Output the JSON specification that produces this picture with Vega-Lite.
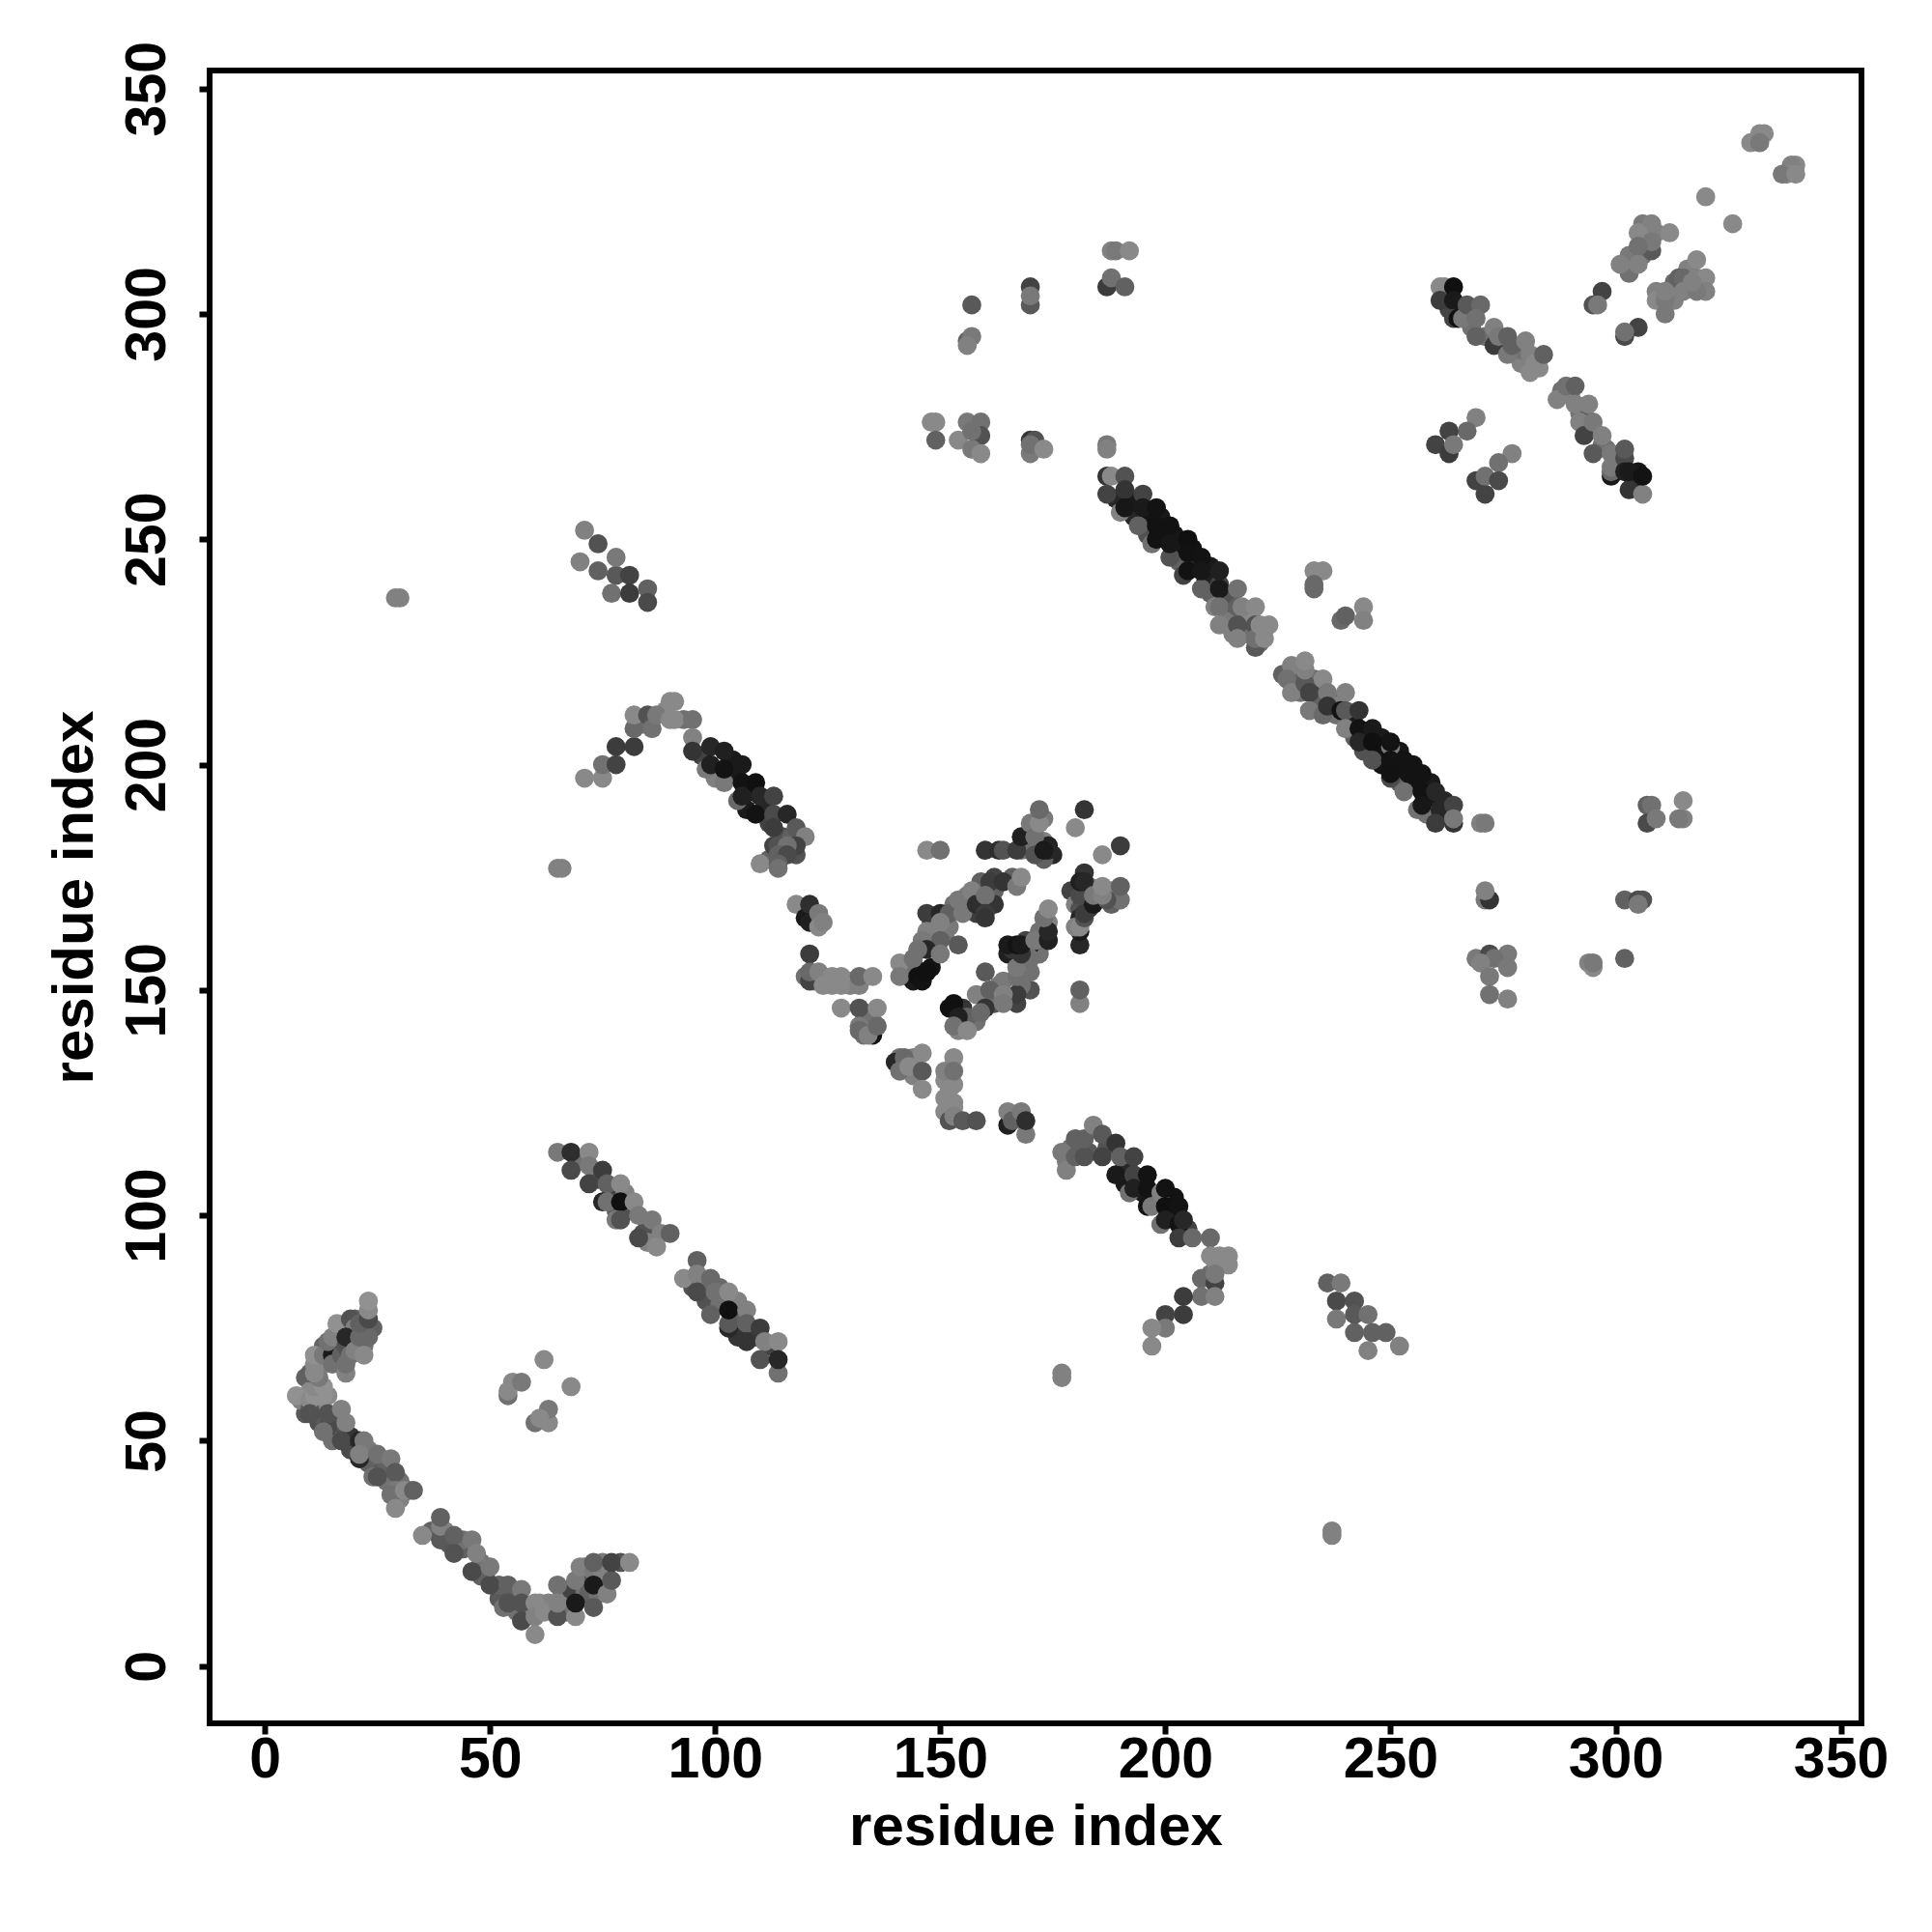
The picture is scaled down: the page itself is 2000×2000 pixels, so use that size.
{"$schema":"https://vega.github.io/schema/vega-lite/v6.json","autosize":"none","width":1710,"height":1711,"padding":{"left":217,"top":73,"right":73,"bottom":216},"background":"white","view":{"stroke":"black","strokeWidth":6,"fill":"white"},"config":{"axis":{"grid":false,"domain":false,"tickColor":"black","tickWidth":6,"tickSize":11,"labelFont":"Liberation Sans","labelFontWeight":"bold","labelFontSize":59,"labelColor":"black","titleFont":"Liberation Sans","titleFontWeight":"bold","titleFontSize":60,"titleColor":"black","labelOverlap":false,"labelFlush":false}},"data":{"values":[
{"x":189,"y":259,"v":0.2},{"x":192,"y":259,"v":0.1},{"x":193,"y":255,"v":0.2},{"x":196,"y":254,"v":0.05},{"x":196,"y":251,"v":0.5},{"x":199,"y":255,"v":0.1},{"x":199,"y":251,"v":0.05},{"x":202,"y":251,"v":0.08},{"x":203,"y":248,"v":0.1},{"x":203,"y":245,"v":0.6},{"x":206,"y":248,"v":0.05},{"x":206,"y":244,"v":0.3},{"x":209,"y":241,"v":0.15},{"x":210,"y":244,"v":0.1},{"x":210,"y":238,"v":0.6},{"x":213,"y":237,"v":0.7},{"x":214,"y":233,"v":0.75},{"x":214,"y":236,"v":0.5},{"x":217,"y":233,"v":0.75},{"x":218,"y":229,"v":0.7},{"x":218,"y":232,"v":0.5},{"x":215,"y":229,"v":0.8},{"x":222,"y":230,"v":0.8},{"x":219,"y":233,"v":0.85},{"x":221,"y":227,"v":0.7},
{"x":229,"y":219,"v":0.6},{"x":230,"y":216,"v":0.7},{"x":233,"y":219,"v":0.7},{"x":234,"y":217,"v":0.4},{"x":234,"y":214,"v":0.6},{"x":237,"y":214,"v":0.4},{"x":238,"y":211,"v":0.7},{"x":238,"y":213,"v":0.8},{"x":241,"y":211,"v":0.1},{"x":241,"y":208,"v":0.15},{"x":242,"y":206,"v":0.6},{"x":245,"y":206,"v":0.05},{"x":244,"y":203,"v":0.5},{"x":248,"y":203,"v":0.05},{"x":248,"y":206,"v":0.1},{"x":248,"y":200,"v":0.05},{"x":252,"y":203,"v":0.08},{"x":252,"y":199,"v":0.05},{"x":252,"y":196,"v":0.6},{"x":255,"y":196,"v":0.05},{"x":255,"y":200,"v":0.05},{"x":259,"y":192,"v":0.1},{"x":259,"y":196,"v":0.1},{"x":262,"y":189,"v":0.3},{"x":262,"y":192,"v":0.2},{"x":258,"y":189,"v":0.7},
{"x":148,"y":165,"v":0.6},{"x":148,"y":161,"v":0.7},{"x":151,"y":162,"v":0.7},{"x":152,"y":164,"v":0.75},{"x":153,"y":169,"v":0.7},{"x":156,"y":169,"v":0.7},{"x":156,"y":171,"v":0.75},{"x":159,"y":172,"v":0.7},{"x":159,"y":174,"v":0.6},{"x":162,"y":172,"v":0.6},{"x":162,"y":169,"v":0.3},{"x":162,"y":175,"v":0.4},{"x":158,"y":167,"v":0.35},{"x":166,"y":175,"v":0.6},{"x":169,"y":184,"v":0.7},{"x":170,"y":182,"v":0.6},{"x":171,"y":182,"v":0.5},{"x":173,"y":183,"v":0.8},{"x":173,"y":188,"v":0.75},{"x":170,"y":185,"v":0.2},{"x":168,"y":181,"v":0.7},{"x":172,"y":182,"v":0.8},{"x":174,"y":182,"v":0.15},{"x":175,"y":180,"v":0.2},{"x":173,"y":179,"v":0.6},
{"x":183,"y":173,"v":0.7},{"x":182,"y":176,"v":0.3},{"x":179,"y":172,"v":0.4},{"x":183,"y":168,"v":0.35},{"x":180,"y":169,"v":0.8},{"x":182,"y":170,"v":0.55},{"x":185,"y":172,"v":0.7},{"x":188,"y":172,"v":0.8},{"x":188,"y":169,"v":0.6},{"x":190,"y":170,"v":0.7},{"x":181,"y":168,"v":0.5},{"x":181,"y":166,"v":0.2},{"x":170,"y":150,"v":0.5},{"x":168,"y":151,"v":0.7},{"x":170,"y":154,"v":0.7},{"x":172,"y":158,"v":0.7},{"x":170,"y":160,"v":0.1},{"x":165,"y":158,"v":0.15},{"x":166,"y":159,"v":0.3},{"x":165,"y":160,"v":0.1},{"x":169,"y":161,"v":0.4},{"x":172,"y":163,"v":0.7},{"x":174,"y":165,"v":0.8},{"x":164,"y":152,"v":0.75},{"x":162,"y":147,"v":0.5},{"x":161,"y":148,"v":0.7},{"x":155,"y":146,"v":0.3},{"x":154,"y":141,"v":0.8},{"x":158,"y":143,"v":0.7},{"x":163,"y":151,"v":0.75},
{"x":9,"y":56,"v":0.55},{"x":12,"y":57,"v":0.6},{"x":12,"y":54,"v":0.5},{"x":15,"y":55,"v":0.5},{"x":16,"y":52,"v":0.5},{"x":15,"y":50,"v":0.7},{"x":19,"y":48,"v":0.45},{"x":19,"y":51,"v":0.3},{"x":23,"y":45,"v":0.6},{"x":23,"y":48,"v":0.75},{"x":26,"y":43,"v":0.55},{"x":27,"y":45,"v":0.6},{"x":27,"y":41,"v":0.7},{"x":30,"y":41,"v":0.7},{"x":30,"y":37,"v":0.8},{"x":32,"y":39,"v":0.7},{"x":40,"y":30,"v":0.8},{"x":41,"y":27,"v":0.55},{"x":37,"y":30,"v":0.6},{"x":44,"y":26,"v":0.6},{"x":44,"y":28,"v":0.7},{"x":48,"y":23,"v":0.7},{"x":49,"y":20,"v":0.5},{"x":48,"y":20,"v":0.6},{"x":52,"y":15,"v":0.55},{"x":52,"y":18,"v":0.6},{"x":56,"y":12,"v":0.7},{"x":55,"y":15,"v":0.6},{"x":59,"y":13,"v":0.8},{"x":58,"y":11,"v":0.85},{"x":61,"y":14,"v":0.85},{"x":63,"y":14,"v":0.8},{"x":64,"y":12,"v":0.8},{"x":67,"y":14,"v":0.75},{"x":67,"y":12,"v":0.7},{"x":66,"y":16,"v":0.8},{"x":68,"y":17,"v":0.4},{"x":71,"y":16,"v":0.7},{"x":71,"y":19,"v":0.5},{"x":71,"y":22,"v":0.75},{"x":72,"y":16,"v":0.6},{"x":74,"y":20,"v":0.6},{"x":75,"y":18,"v":0.55},{"x":75,"y":23,"v":0.75},{"x":79,"y":23,"v":0.5},{"x":74,"y":16,"v":0.7},
{"x":12,"y":67,"v":0.8},{"x":13,"y":71,"v":0.6},{"x":13,"y":67,"v":0.85},{"x":9,"y":64,"v":0.6},{"x":8,"y":59,"v":0.8},{"x":16,"y":70,"v":0.8},{"x":17,"y":74,"v":0.7},{"x":20,"y":72,"v":0.7},{"x":22,"y":71,"v":0.7},{"x":24,"y":75,"v":0.6},{"x":20,"y":77,"v":0.6},{"x":12,"y":56,"v":0.55},{"x":14,"y":60,"v":0.85},{"x":10,"y":61,"v":0.85},{"x":12,"y":58,"v":0.85},
{"x":70,"y":112,"v":0.7},{"x":74,"y":108,"v":0.5},{"x":77,"y":105,"v":0.4},{"x":80,"y":105,"v":0.8},{"x":78,"y":101,"v":0.6},{"x":81,"y":101,"v":0.5},{"x":85,"y":98,"v":0.7},{"x":84,"y":96,"v":0.5},{"x":85,"y":94,"v":0.8},{"x":95,"y":84,"v":0.5},{"x":97,"y":85,"v":0.75},{"x":98,"y":81,"v":0.5},{"x":101,"y":80,"v":0.7},{"x":101,"y":84,"v":0.65},{"x":104,"y":78,"v":0.6},{"x":105,"y":81,"v":0.8},{"x":109,"y":73,"v":0.35},{"x":105,"y":73,"v":0.3},{"x":112,"y":71,"v":0.4},
{"x":306,"y":317,"v":0.85},{"x":309,"y":318,"v":0.8},{"x":303,"y":313,"v":0.75},{"x":306,"y":313,"v":0.7},{"x":307,"y":316,"v":0.75},{"x":304,"y":311,"v":0.75},{"x":313,"y":305,"v":0.8},{"x":316,"y":307,"v":0.7},{"x":319,"y":306,"v":0.8},{"x":316,"y":310,"v":0.8},{"x":313,"y":307,"v":0.65},{"x":309,"y":305,"v":0.8},{"x":313,"y":303,"v":0.8},
{"x":263,"y":301,"v":0.4},{"x":266,"y":301,"v":0.6},{"x":268,"y":297,"v":0.7},{"x":271,"y":295,"v":0.7},{"x":275,"y":294,"v":0.6},{"x":278,"y":291,"v":0.8},{"x":279,"y":289,"v":0.8},{"x":283,"y":288,"v":0.85},{"x":279,"y":292,"v":0.7},{"x":288,"y":283,"v":0.7},{"x":290,"y":282,"v":0.8},{"x":292,"y":278,"v":0.7},{"x":293,"y":278,"v":0.6},{"x":297,"y":271,"v":0.7},{"x":294,"y":275,"v":0.75},{"x":298,"y":270,"v":0.7},{"x":300,"y":268,"v":0.7},{"x":301,"y":267,"v":0.5},{"x":304,"y":263,"v":0.2},{"x":305,"y":265,"v":0.08},
{"x":141,"y":135,"v":0.7},{"x":144,"y":135,"v":0.8},{"x":144,"y":131,"v":0.8},{"x":151,"y":130,"v":0.85},{"x":153,"y":129,"v":0.85},{"x":151,"y":126,"v":0.85},{"x":153,"y":125,"v":0.85},{"x":151,"y":123,"v":0.85},{"x":153,"y":124,"v":0.85},{"x":120,"y":153,"v":0.7},{"x":122,"y":152,"v":0.75},{"x":124,"y":153,"v":0.85},{"x":126,"y":151,"v":0.85},{"x":130,"y":152,"v":0.85},{"x":130,"y":151,"v":0.8},{"x":133,"y":145,"v":0.75},{"x":133,"y":143,"v":0.75},{"x":135,"y":143,"v":0.7},{"x":133,"y":140,"v":0.7},{"x":142,"y":155,"v":0.8},{"x":143,"y":153,"v":0.75},{"x":144,"y":156,"v":0.7},{"x":144,"y":152,"v":0.1},{"x":148,"y":155,"v":0.05},
{"x":100,"y":197,"v":0.8},{"x":107,"y":190,"v":0.1},{"x":111,"y":190,"v":0.2},{"x":112,"y":187,"v":0.4},{"x":115,"y":184,"v":0.5},{"x":117,"y":184,"v":0.6},{"x":112,"y":179,"v":0.6},{"x":118,"y":180,"v":0.5},{"x":104,"y":198,"v":0.1},{"x":104,"y":201,"v":0.1},{"x":108,"y":194,"v":0.05},{"x":93,"y":210,"v":0.7},{"x":89,"y":212,"v":0.85},{"x":84,"y":209,"v":0.7},{"x":97,"y":202,"v":0.4},
{"x":179,"y":115,"v":0.7},{"x":181,"y":114,"v":0.65},{"x":183,"y":114,"v":0.55},{"x":187,"y":115,"v":0.5},{"x":191,"y":111,"v":0.2},{"x":191,"y":107,"v":0.1},{"x":194,"y":108,"v":0.1},{"x":195,"y":105,"v":0.1},{"x":198,"y":104,"v":0.05},{"x":201,"y":100,"v":0.1},{"x":202,"y":104,"v":0.05},{"x":205,"y":97,"v":0.4},{"x":212,"y":91,"v":0.85},{"x":212,"y":89,"v":0.8},{"x":210,"y":87,"v":0.7},{"x":178,"y":112,"v":0.75},
{"x":7,"y":60,"v":0.9},{"x":10,"y":57,"v":0.55},{"x":10,"y":59,"v":0.85},{"x":11,"y":60,"v":0.9},{"x":12,"y":60,"v":0.9},{"x":13,"y":60,"v":0.9},{"x":11,"y":62,"v":0.85},{"x":13,"y":62,"v":0.9},{"x":12,"y":64,"v":0.75},{"x":10,"y":65,"v":0.6},{"x":11,"y":65,"v":0.85},{"x":11,"y":67,"v":0.85},{"x":11,"y":69,"v":0.9},{"x":13,"y":69,"v":0.75},{"x":15,"y":69,"v":0.1},{"x":15,"y":67,"v":0.7},{"x":18,"y":65,"v":0.8},{"x":17,"y":69,"v":0.6},{"x":14,"y":72,"v":0.7},{"x":15,"y":73,"v":0.8},{"x":16,"y":76,"v":0.9},{"x":19,"y":77,"v":0.5},{"x":20,"y":75,"v":0.8},{"x":18,"y":71,"v":0.5},{"x":18,"y":67,"v":0.7},{"x":18,"y":73,"v":0.2},{"x":19,"y":69,"v":0.7},{"x":20,"y":70,"v":0.8},{"x":22,"y":69,"v":0.85},{"x":21,"y":73,"v":0.65},{"x":23,"y":73,"v":0.65},{"x":21,"y":76,"v":0.6},{"x":23,"y":77,"v":0.45},{"x":23,"y":79,"v":0.85},{"x":23,"y":81,"v":0.9},
{"x":10,"y":56,"v":0.5},{"x":14,"y":53,"v":0.45},{"x":14,"y":56,"v":0.5},{"x":17,"y":57,"v":0.8},{"x":18,"y":54,"v":0.8},{"x":13,"y":52,"v":0.7},{"x":17,"y":50,"v":0.45},{"x":21,"y":50,"v":0.2},{"x":22,"y":50,"v":0.75},{"x":21,"y":46,"v":0.2},{"x":21,"y":47,"v":0.8},{"x":25,"y":47,"v":0.7},{"x":28,"y":46,"v":0.75},{"x":24,"y":42,"v":0.7},{"x":25,"y":42,"v":0.5},{"x":29,"y":43,"v":0.55},{"x":29,"y":39,"v":0.75},{"x":28,"y":38,"v":0.7},{"x":31,"y":39,"v":0.85},{"x":33,"y":39,"v":0.6},{"x":29,"y":35,"v":0.85},
{"x":35,"y":29,"v":0.85},{"x":39,"y":28,"v":0.55},{"x":39,"y":31,"v":0.8},{"x":39,"y":33,"v":0.6},{"x":42,"y":29,"v":0.6},{"x":42,"y":25,"v":0.5},{"x":46,"y":28,"v":0.75},{"x":46,"y":21,"v":0.45},{"x":47,"y":25,"v":0.8},{"x":50,"y":18,"v":0.45},{"x":50,"y":22,"v":0.75},{"x":54,"y":18,"v":0.6},{"x":57,"y":17,"v":0.75},{"x":53,"y":13,"v":0.7},{"x":54,"y":14,"v":0.5},{"x":57,"y":14,"v":0.5},{"x":57,"y":10,"v":0.45},{"x":60,"y":14,"v":0.85},{"x":60,"y":11,"v":0.8},{"x":60,"y":7,"v":0.85},{"x":62,"y":12,"v":0.85},{"x":65,"y":11,"v":0.5},{"x":69,"y":11,"v":0.85},{"x":65,"y":18,"v":0.7},{"x":65,"y":14,"v":0.8},{"x":69,"y":14,"v":0.1},{"x":69,"y":19,"v":0.75},{"x":70,"y":22,"v":0.8},{"x":73,"y":13,"v":0.55},{"x":73,"y":21,"v":0.75},{"x":75,"y":21,"v":0.8},{"x":73,"y":18,"v":0.1},{"x":73,"y":23,"v":0.6},{"x":76,"y":16,"v":0.8},{"x":77,"y":19,"v":0.55},{"x":77,"y":23,"v":0.4},{"x":81,"y":23,"v":0.85},
{"x":62,"y":68,"v":0.85},{"x":68,"y":62,"v":0.85},{"x":54,"y":60,"v":0.7},{"x":55,"y":63,"v":0.85},{"x":54,"y":61,"v":0.85},{"x":57,"y":63,"v":0.75},{"x":60,"y":54,"v":0.7},{"x":63,"y":54,"v":0.85},{"x":63,"y":57,"v":0.75},{"x":61,"y":55,"v":0.85},
{"x":65,"y":114,"v":0.75},{"x":68,"y":114,"v":0.25},{"x":72,"y":114,"v":0.85},{"x":68,"y":110,"v":0.45},{"x":72,"y":111,"v":0.75},{"x":75,"y":110,"v":0.35},{"x":72,"y":107,"v":0.4},{"x":76,"y":107,"v":0.6},{"x":79,"y":107,"v":0.85},{"x":75,"y":103,"v":0.2},{"x":76,"y":103,"v":0.7},{"x":79,"y":103,"v":0.03},{"x":82,"y":103,"v":0.85},{"x":78,"y":99,"v":0.75},{"x":79,"y":99,"v":0.5},{"x":83,"y":100,"v":0.75},{"x":86,"y":99,"v":0.75},{"x":83,"y":95,"v":0.45},{"x":88,"y":96,"v":0.8},{"x":90,"y":96,"v":0.6},{"x":87,"y":93,"v":0.85},
{"x":96,"y":90,"v":0.6},{"x":93,"y":86,"v":0.85},{"x":96,"y":87,"v":0.8},{"x":96,"y":83,"v":0.45},{"x":99,"y":86,"v":0.65},{"x":99,"y":78,"v":0.6},{"x":100,"y":83,"v":0.7},{"x":103,"y":75,"v":0.2},{"x":103,"y":83,"v":0.85},{"x":103,"y":76,"v":0.55},{"x":103,"y":79,"v":0.03},{"x":107,"y":79,"v":0.8},{"x":107,"y":76,"v":0.6},{"x":110,"y":75,"v":0.35},{"x":107,"y":72,"v":0.3},{"x":111,"y":72,"v":0.8},{"x":110,"y":68,"v":0.5},{"x":114,"y":72,"v":0.85},{"x":114,"y":65,"v":0.7},{"x":114,"y":68,"v":0.2},
{"x":71,"y":252,"v":0.8},{"x":70,"y":245,"v":0.8},{"x":74,"y":249,"v":0.5},{"x":74,"y":243,"v":0.6},{"x":78,"y":242,"v":0.55},{"x":78,"y":246,"v":0.75},{"x":77,"y":238,"v":0.7},{"x":81,"y":242,"v":0.4},{"x":81,"y":238,"v":0.35},{"x":85,"y":239,"v":0.6},{"x":85,"y":236,"v":0.45},{"x":29,"y":237,"v":0.8},{"x":30,"y":237,"v":0.8},
{"x":71,"y":197,"v":0.85},{"x":75,"y":197,"v":0.85},{"x":75,"y":200,"v":0.7},{"x":78,"y":200,"v":0.4},{"x":78,"y":204,"v":0.35},{"x":82,"y":204,"v":0.35},{"x":82,"y":208,"v":0.65},{"x":82,"y":211,"v":0.85},{"x":85,"y":211,"v":0.5},{"x":86,"y":208,"v":0.7},{"x":87,"y":211,"v":0.75},{"x":90,"y":214,"v":0.85},{"x":91,"y":214,"v":0.85},{"x":90,"y":210,"v":0.85},{"x":91,"y":210,"v":0.85},{"x":95,"y":210,"v":0.7},{"x":95,"y":206,"v":0.8},{"x":95,"y":203,"v":0.3},
{"x":98,"y":199,"v":0.75},{"x":99,"y":204,"v":0.2},{"x":99,"y":200,"v":0.15},{"x":102,"y":196,"v":0.75},{"x":102,"y":203,"v":0.15},{"x":102,"y":199,"v":0.05},{"x":106,"y":200,"v":0.1},{"x":105,"y":192,"v":0.65},{"x":106,"y":196,"v":0.05},{"x":106,"y":193,"v":0.15},{"x":109,"y":196,"v":0.03},{"x":110,"y":193,"v":0.2},{"x":109,"y":189,"v":0.05},{"x":113,"y":193,"v":0.4},{"x":113,"y":189,"v":0.45},{"x":116,"y":189,"v":0.2},{"x":113,"y":186,"v":0.35},{"x":118,"y":186,"v":0.55},{"x":120,"y":184,"v":0.8},{"x":118,"y":182,"v":0.4},{"x":113,"y":182,"v":0.4},{"x":114,"y":182,"v":0.5},{"x":116,"y":182,"v":0.7},{"x":110,"y":178,"v":0.85},{"x":114,"y":180,"v":0.6},{"x":116,"y":180,"v":0.45},{"x":114,"y":178,"v":0.6},{"x":114,"y":177,"v":0.7},
{"x":65,"y":177,"v":0.8},{"x":66,"y":177,"v":0.8},
{"x":118,"y":169,"v":0.85},{"x":120,"y":166,"v":0.1},{"x":121,"y":169,"v":0.25},{"x":121,"y":165,"v":0.15},{"x":123,"y":167,"v":0.75},{"x":123,"y":164,"v":0.85},{"x":124,"y":165,"v":0.8},
{"x":121,"y":158,"v":0.35},{"x":121,"y":152,"v":0.4},{"x":121,"y":154,"v":0.65},{"x":123,"y":154,"v":0.8},{"x":124,"y":151,"v":0.85},{"x":126,"y":153,"v":0.85},{"x":128,"y":153,"v":0.85},{"x":128,"y":151,"v":0.85},{"x":132,"y":151,"v":0.8},{"x":132,"y":153,"v":0.65},{"x":135,"y":153,"v":0.85},{"x":128,"y":146,"v":0.85},{"x":132,"y":146,"v":0.5},{"x":136,"y":146,"v":0.85},{"x":132,"y":142,"v":0.75},{"x":132,"y":141,"v":0.65},{"x":135,"y":140,"v":0.05},{"x":134,"y":140,"v":0.8},{"x":136,"y":142,"v":0.65},
{"x":141,"y":156,"v":0.85},{"x":141,"y":153,"v":0.75},{"x":145,"y":153,"v":0.03},{"x":146,"y":152,"v":0.05},{"x":146,"y":154,"v":0.03},{"x":147,"y":154,"v":0.03},
{"x":147,"y":181,"v":0.85},{"x":150,"y":181,"v":0.7},{"x":160,"y":181,"v":0.3},{"x":163,"y":181,"v":0.25},{"x":164,"y":181,"v":0.5},{"x":167,"y":181,"v":0.35},{"x":168,"y":184,"v":0.15},{"x":170,"y":187,"v":0.75},{"x":171,"y":184,"v":0.7},{"x":171,"y":180,"v":0.5},{"x":172,"y":187,"v":0.85},{"x":172,"y":190,"v":0.65},{"x":174,"y":181,"v":0.2},{"x":173,"y":181,"v":0.1},{"x":182,"y":190,"v":0.3},{"x":180,"y":186,"v":0.85},{"x":190,"y":182,"v":0.35},{"x":186,"y":180,"v":0.85},
{"x":181,"y":147,"v":0.8},{"x":181,"y":150,"v":0.6},{"x":181,"y":160,"v":0.2},{"x":181,"y":163,"v":0.1},{"x":180,"y":164,"v":0.8},{"x":181,"y":164,"v":0.85},{"x":182,"y":166,"v":0.5},{"x":182,"y":167,"v":0.35},{"x":181,"y":171,"v":0.45},{"x":184,"y":169,"v":0.1},{"x":181,"y":174,"v":0.15},{"x":182,"y":174,"v":0.2},{"x":187,"y":170,"v":0.5},{"x":184,"y":171,"v":0.75},{"x":186,"y":171,"v":0.8},{"x":186,"y":173,"v":0.85},{"x":190,"y":173,"v":0.6},
{"x":167,"y":147,"v":0.4},{"x":167,"y":149,"v":0.35},{"x":167,"y":153,"v":0.7},{"x":167,"y":155,"v":0.75},{"x":170,"y":157,"v":0.7},{"x":168,"y":158,"v":0.3},{"x":167,"y":160,"v":0.05},{"x":168,"y":160,"v":0.1},{"x":171,"y":161,"v":0.75},{"x":174,"y":161,"v":0.15},{"x":174,"y":163,"v":0.2},{"x":173,"y":166,"v":0.7},{"x":174,"y":168,"v":0.85},
{"x":160,"y":154,"v":0.55},{"x":158,"y":149,"v":0.8},{"x":161,"y":150,"v":0.6},{"x":164,"y":149,"v":0.8},{"x":160,"y":146,"v":0.3},{"x":164,"y":147,"v":0.75},{"x":156,"y":144,"v":0.6},{"x":159,"y":145,"v":0.65},{"x":152,"y":146,"v":0.03},{"x":153,"y":147,"v":0.03},{"x":154,"y":144,"v":0.15},{"x":153,"y":142,"v":0.7},{"x":156,"y":141,"v":0.85},
{"x":147,"y":167,"v":0.35},{"x":150,"y":167,"v":0.2},{"x":152,"y":167,"v":0.6},{"x":155,"y":167,"v":0.75},{"x":154,"y":170,"v":0.75},{"x":157,"y":172,"v":0.8},{"x":161,"y":174,"v":0.35},{"x":164,"y":174,"v":0.3},{"x":167,"y":173,"v":0.75},{"x":168,"y":175,"v":0.85},{"x":158,"y":169,"v":0.25},{"x":160,"y":171,"v":0.7},{"x":160,"y":167,"v":0.35},{"x":160,"y":166,"v":0.3},{"x":147,"y":163,"v":0.8},{"x":150,"y":165,"v":0.8},{"x":150,"y":161,"v":0.6},{"x":154,"y":160,"v":0.55},{"x":146,"y":161,"v":0.75},{"x":147,"y":159,"v":0.2},{"x":150,"y":158,"v":0.75},{"x":145,"y":159,"v":0.7},{"x":144,"y":157,"v":0.7},
{"x":140,"y":134,"v":0.2},{"x":142,"y":135,"v":0.65},{"x":146,"y":136,"v":0.85},{"x":141,"y":132,"v":0.7},{"x":143,"y":133,"v":0.85},{"x":146,"y":132,"v":0.55},{"x":146,"y":128,"v":0.85},{"x":153,"y":135,"v":0.85},{"x":151,"y":132,"v":0.8},{"x":153,"y":132,"v":0.7},{"x":152,"y":121,"v":0.5},{"x":152,"y":128,"v":0.85},{"x":152,"y":125,"v":0.85},{"x":153,"y":122,"v":0.8},{"x":155,"y":121,"v":0.55},{"x":158,"y":121,"v":0.5},
{"x":165,"y":120,"v":0.15},{"x":165,"y":123,"v":0.8},{"x":166,"y":121,"v":0.6},{"x":168,"y":123,"v":0.75},{"x":169,"y":118,"v":0.75},{"x":169,"y":121,"v":0.25},
{"x":177,"y":114,"v":0.75},{"x":178,"y":110,"v":0.8},{"x":180,"y":113,"v":0.6},{"x":180,"y":117,"v":0.6},{"x":182,"y":113,"v":0.5},{"x":182,"y":117,"v":0.6},{"x":184,"y":120,"v":0.8},{"x":186,"y":118,"v":0.55},{"x":186,"y":113,"v":0.4},{"x":189,"y":116,"v":0.3},{"x":189,"y":109,"v":0.1},{"x":190,"y":113,"v":0.6},{"x":193,"y":113,"v":0.4},{"x":193,"y":109,"v":0.4},{"x":192,"y":105,"v":0.7},{"x":193,"y":106,"v":0.15},{"x":196,"y":109,"v":0.05},{"x":196,"y":106,"v":0.05},{"x":196,"y":102,"v":0.05},{"x":197,"y":102,"v":0.75},{"x":199,"y":105,"v":0.8},{"x":200,"y":106,"v":0.05},{"x":200,"y":102,"v":0.03},{"x":203,"y":102,"v":0.05},{"x":199,"y":98,"v":0.7},{"x":200,"y":99,"v":0.15},{"x":203,"y":98,"v":0.05},{"x":204,"y":99,"v":0.2},{"x":203,"y":95,"v":0.35},{"x":206,"y":95,"v":0.65},{"x":210,"y":95,"v":0.65},{"x":210,"y":91,"v":0.85},{"x":211,"y":90,"v":0.85},{"x":214,"y":91,"v":0.85},{"x":214,"y":89,"v":0.85},{"x":208,"y":86,"v":0.65},{"x":211,"y":85,"v":0.4},{"x":211,"y":87,"v":0.75},{"x":208,"y":82,"v":0.7},{"x":211,"y":82,"v":0.8},{"x":204,"y":82,"v":0.35},{"x":204,"y":78,"v":0.35},{"x":200,"y":78,"v":0.4},{"x":200,"y":75,"v":0.75},{"x":197,"y":75,"v":0.85},{"x":197,"y":71,"v":0.85},
{"x":236,"y":85,"v":0.6},{"x":239,"y":85,"v":0.75},{"x":238,"y":81,"v":0.45},{"x":242,"y":81,"v":0.5},{"x":238,"y":77,"v":0.75},{"x":242,"y":78,"v":0.55},{"x":245,"y":78,"v":0.7},{"x":242,"y":74,"v":0.6},{"x":246,"y":74,"v":0.6},{"x":249,"y":74,"v":0.6},{"x":245,"y":70,"v":0.8},{"x":252,"y":71,"v":0.8},{"x":237,"y":30,"v":0.8},{"x":237,"y":29,"v":0.8},{"x":177,"y":65,"v":0.8},{"x":177,"y":64,"v":0.8},
{"x":187,"y":271,"v":0.75},{"x":187,"y":270,"v":0.8},{"x":187,"y":264,"v":0.3},{"x":188,"y":264,"v":0.85},{"x":191,"y":264,"v":0.5},{"x":187,"y":260,"v":0.4},{"x":191,"y":261,"v":0.3},{"x":195,"y":260,"v":0.4},{"x":190,"y":256,"v":0.8},{"x":191,"y":257,"v":0.08},{"x":195,"y":257,"v":0.1},{"x":198,"y":257,"v":0.05},{"x":194,"y":253,"v":0.6},{"x":197,"y":249,"v":0.7},{"x":198,"y":253,"v":0.04},{"x":201,"y":253,"v":0.04},{"x":198,"y":250,"v":0.04},{"x":201,"y":246,"v":0.5},{"x":201,"y":249,"v":0.08},{"x":205,"y":250,"v":0.03},{"x":205,"y":247,"v":0.04},{"x":208,"y":246,"v":0.05},{"x":204,"y":242,"v":0.4},{"x":205,"y":243,"v":0.04},{"x":208,"y":239,"v":0.6},{"x":208,"y":243,"v":0.08},{"x":212,"y":240,"v":0.4},{"x":212,"y":239,"v":0.1},{"x":212,"y":243,"v":0.15},{"x":216,"y":239,"v":0.7},{"x":211,"y":235,"v":0.8},{"x":212,"y":235,"v":0.7},{"x":216,"y":235,"v":0.6},{"x":217,"y":235,"v":0.8},{"x":220,"y":235,"v":0.85},{"x":212,"y":231,"v":0.8},{"x":216,"y":231,"v":0.5},{"x":216,"y":228,"v":0.8},{"x":220,"y":231,"v":0.5},{"x":220,"y":226,"v":0.55},{"x":220,"y":228,"v":0.7},{"x":222,"y":228,"v":0.85},{"x":221,"y":231,"v":0.85},{"x":223,"y":231,"v":0.85},
{"x":226,"y":220,"v":0.6},{"x":228,"y":222,"v":0.8},{"x":227,"y":219,"v":0.7},{"x":228,"y":216,"v":0.8},{"x":231,"y":218,"v":0.55},{"x":231,"y":221,"v":0.8},{"x":231,"y":223,"v":0.85},{"x":232,"y":216,"v":0.4},{"x":235,"y":219,"v":0.85},{"x":236,"y":216,"v":0.75},{"x":240,"y":216,"v":0.8},{"x":232,"y":212,"v":0.75},{"x":235,"y":211,"v":0.65},{"x":236,"y":213,"v":0.3},{"x":239,"y":212,"v":0.05},{"x":240,"y":212,"v":0.55},{"x":243,"y":212,"v":0.3},{"x":240,"y":208,"v":0.8},{"x":243,"y":208,"v":0.05},{"x":246,"y":208,"v":0.1},{"x":243,"y":205,"v":0.2},{"x":246,"y":205,"v":0.03},{"x":250,"y":204,"v":0.75},{"x":250,"y":205,"v":0.05},{"x":246,"y":201,"v":0.5},{"x":250,"y":201,"v":0.05},{"x":253,"y":201,"v":0.05},{"x":250,"y":197,"v":0.45},{"x":250,"y":198,"v":0.04},{"x":254,"y":198,"v":0.05},{"x":257,"y":198,"v":0.05},{"x":253,"y":194,"v":0.7},{"x":257,"y":194,"v":0.05},{"x":260,"y":194,"v":0.2},{"x":256,"y":190,"v":0.7},{"x":257,"y":191,"v":0.08},{"x":261,"y":190,"v":0.2},{"x":264,"y":191,"v":0.4},{"x":260,"y":187,"v":0.35},{"x":264,"y":187,"v":0.3},{"x":264,"y":188,"v":0.75},{"x":270,"y":187,"v":0.8},{"x":271,"y":187,"v":0.75},
{"x":233,"y":243,"v":0.85},{"x":235,"y":243,"v":0.85},{"x":233,"y":240,"v":0.65},{"x":233,"y":239,"v":0.65},{"x":244,"y":235,"v":0.85},{"x":239,"y":232,"v":0.65},{"x":240,"y":233,"v":0.6},{"x":244,"y":232,"v":0.8},
{"x":332,"y":340,"v":0.85},{"x":333,"y":340,"v":0.85},{"x":330,"y":338,"v":0.85},{"x":332,"y":338,"v":0.75},{"x":340,"y":333,"v":0.85},{"x":339,"y":333,"v":0.8},{"x":338,"y":331,"v":0.85},{"x":337,"y":331,"v":0.75},{"x":340,"y":331,"v":0.85},{"x":320,"y":326,"v":0.85},{"x":326,"y":320,"v":0.85},
{"x":306,"y":320,"v":0.75},{"x":308,"y":320,"v":0.8},{"x":312,"y":318,"v":0.85},{"x":305,"y":318,"v":0.85},{"x":308,"y":314,"v":0.55},{"x":308,"y":316,"v":0.75},{"x":305,"y":315,"v":0.7},{"x":303,"y":309,"v":0.7},{"x":305,"y":311,"v":0.8},{"x":301,"y":311,"v":0.8},{"x":297,"y":305,"v":0.4},{"x":295,"y":302,"v":0.5},{"x":296,"y":302,"v":0.75},{"x":305,"y":297,"v":0.4},{"x":302,"y":295,"v":0.45},{"x":302,"y":296,"v":0.7},
{"x":309,"y":303,"v":0.85},{"x":311,"y":303,"v":0.75},{"x":311,"y":300,"v":0.75},{"x":311,"y":305,"v":0.8},{"x":314,"y":308,"v":0.6},{"x":315,"y":308,"v":0.65},{"x":318,"y":312,"v":0.85},{"x":315,"y":305,"v":0.8},{"x":318,"y":308,"v":0.8},{"x":320,"y":308,"v":0.85},{"x":320,"y":305,"v":0.8},{"x":318,"y":305,"v":0.75},{"x":317,"y":307,"v":0.8},
{"x":261,"y":306,"v":0.85},{"x":262,"y":306,"v":0.85},{"x":264,"y":306,"v":0.03},{"x":261,"y":303,"v":0.35},{"x":264,"y":303,"v":0.1},{"x":264,"y":299,"v":0.4},{"x":265,"y":299,"v":0.03},{"x":266,"y":299,"v":0.75},{"x":267,"y":302,"v":0.55},{"x":270,"y":302,"v":0.65},{"x":269,"y":299,"v":0.7},{"x":269,"y":295,"v":0.6},{"x":273,"y":293,"v":0.35},{"x":273,"y":297,"v":0.8},{"x":274,"y":295,"v":0.75},{"x":276,"y":295,"v":0.6},{"x":276,"y":291,"v":0.75},{"x":277,"y":293,"v":0.6},{"x":280,"y":294,"v":0.8},{"x":281,"y":287,"v":0.85},{"x":281,"y":291,"v":0.8},{"x":282,"y":289,"v":0.85},{"x":284,"y":291,"v":0.6},
{"x":287,"y":281,"v":0.8},{"x":289,"y":284,"v":0.7},{"x":291,"y":284,"v":0.6},{"x":291,"y":280,"v":0.8},{"x":294,"y":280,"v":0.8},{"x":292,"y":276,"v":0.8},{"x":293,"y":273,"v":0.4},{"x":295,"y":276,"v":0.75},{"x":295,"y":269,"v":0.55},{"x":297,"y":273,"v":0.8},{"x":299,"y":264,"v":0.1},{"x":299,"y":265,"v":0.65},{"x":299,"y":269,"v":0.75},{"x":299,"y":266,"v":0.75},{"x":302,"y":268,"v":0.45},{"x":302,"y":270,"v":0.55},{"x":303,"y":261,"v":0.3},{"x":302,"y":265,"v":0.15},{"x":303,"y":265,"v":0.1},{"x":306,"y":260,"v":0.8},{"x":306,"y":264,"v":0.05},
{"x":269,"y":277,"v":0.8},{"x":267,"y":274,"v":0.65},{"x":263,"y":274,"v":0.4},{"x":260,"y":271,"v":0.4},{"x":263,"y":269,"v":0.35},{"x":264,"y":271,"v":0.75},{"x":277,"y":269,"v":0.8},{"x":274,"y":267,"v":0.7},{"x":269,"y":263,"v":0.4},{"x":271,"y":260,"v":0.4},{"x":271,"y":264,"v":0.7},{"x":274,"y":263,"v":0.45},
{"x":271,"y":170,"v":0.75},{"x":272,"y":170,"v":0.3},{"x":271,"y":172,"v":0.8},{"x":269,"y":157,"v":0.75},{"x":272,"y":158,"v":0.45},{"x":276,"y":158,"v":0.75},{"x":273,"y":157,"v":0.7},{"x":270,"y":156,"v":0.8},{"x":272,"y":153,"v":0.75},{"x":276,"y":155,"v":0.75},{"x":272,"y":149,"v":0.7},{"x":276,"y":148,"v":0.8},
{"x":302,"y":170,"v":0.6},{"x":305,"y":170,"v":0.45},{"x":306,"y":170,"v":0.5},{"x":305,"y":169,"v":0.75},{"x":294,"y":156,"v":0.8},{"x":295,"y":155,"v":0.85},{"x":295,"y":156,"v":0.75},{"x":302,"y":157,"v":0.6},
{"x":307,"y":191,"v":0.6},{"x":308,"y":191,"v":0.7},{"x":307,"y":187,"v":0.45},{"x":309,"y":188,"v":0.75},{"x":315,"y":192,"v":0.85},{"x":315,"y":188,"v":0.8},{"x":314,"y":188,"v":0.75},
{"x":148,"y":276,"v":0.85},{"x":149,"y":276,"v":0.85},{"x":149,"y":272,"v":0.6},{"x":156,"y":276,"v":0.75},{"x":159,"y":276,"v":0.7},{"x":154,"y":272,"v":0.85},{"x":159,"y":273,"v":0.5},{"x":157,"y":270,"v":0.75},{"x":159,"y":269,"v":0.85},{"x":157,"y":274,"v":0.7},
{"x":170,"y":272,"v":0.3},{"x":171,"y":272,"v":0.5},{"x":170,"y":269,"v":0.75},{"x":170,"y":271,"v":0.7},{"x":173,"y":270,"v":0.85},
{"x":157,"y":302,"v":0.55},{"x":156,"y":294,"v":0.6},{"x":157,"y":295,"v":0.75},{"x":156,"y":293,"v":0.8},{"x":170,"y":302,"v":0.55},{"x":170,"y":306,"v":0.4},{"x":170,"y":304,"v":0.75},{"x":187,"y":306,"v":0.35},{"x":188,"y":308,"v":0.7},{"x":191,"y":306,"v":0.6},{"x":188,"y":314,"v":0.8},{"x":189,"y":314,"v":0.75},{"x":192,"y":314,"v":0.85}
]},"mark":{"type":"circle","size":390,"opacity":1},"encoding":{"x":{"field":"x","type":"quantitative","scale":{"domain":[-12.27,354.6],"nice":false,"zero":false},"axis":{"title":"residue index","values":[0,50,100,150,200,250,300,350],"labelPadding":-3,"titlePadding":11}},"y":{"field":"y","type":"quantitative","scale":{"domain":[-12.7,354],"nice":false,"zero":false},"axis":{"title":"residue index","values":[0,50,100,150,200,250,300,350],"labelAngle":-90,"labelAlign":"center","labelBaseline":"bottom","labelPadding":24,"titlePadding":15}},"color":{"field":"v","type":"quantitative","legend":null,"scale":{"domain":[0,1],"range":["#0a0a0a","#a2a2a2"]}}}}
